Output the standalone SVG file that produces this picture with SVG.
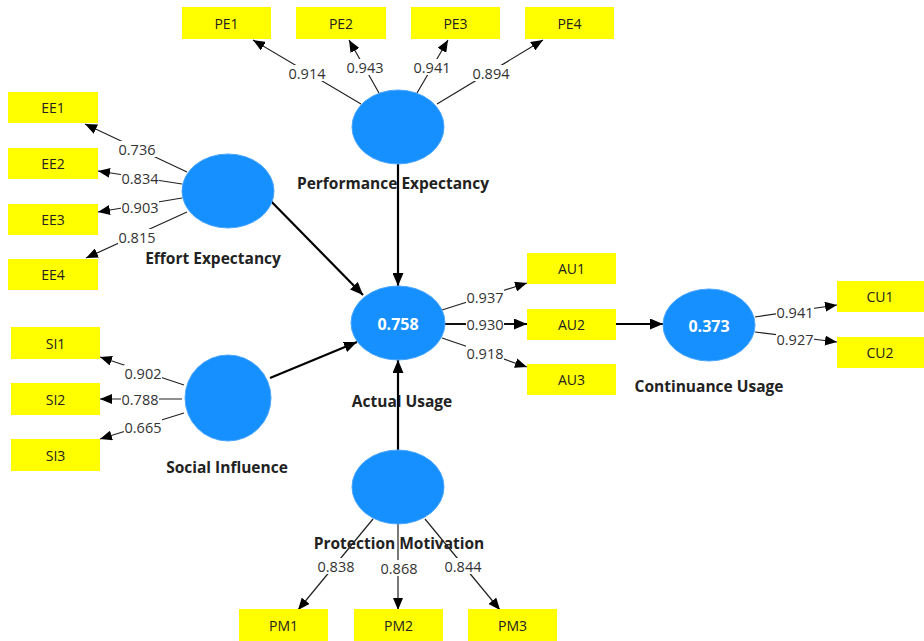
<svg xmlns="http://www.w3.org/2000/svg" width="924" height="641" viewBox="0 0 924 641">
<defs>
<marker id="ah" viewBox="0 0 12 10" refX="12" refY="5" markerWidth="12" markerHeight="10" markerUnits="userSpaceOnUse" orient="auto"><path d="M0,0 L12,5 L0,10 z" fill="#000"/></marker>
<marker id="ahb" viewBox="0 0 13 11" refX="13" refY="5.5" markerWidth="13" markerHeight="11" markerUnits="userSpaceOnUse" orient="auto"><path d="M0,0 L13,5.5 L0,11 z" fill="#000"/></marker>
</defs>
<style>
.box{fill:#ffff00;}
.bt{font-family:"Open Sans","Noto Sans",sans-serif;font-size:14px;fill:#222;text-anchor:middle;dominant-baseline:central;}
.lv{fill:#1690ff;stroke:#4aa6ff;stroke-width:1;}
.lt{font-family:"Open Sans","Noto Sans",sans-serif;font-size:15.5px;font-weight:bold;fill:#222;text-anchor:middle;dominant-baseline:central;}
.vt{font-family:"Open Sans","Noto Sans",sans-serif;font-size:16px;font-weight:bold;fill:#fff;text-anchor:middle;dominant-baseline:central;}
.ind{stroke:#222;stroke-width:1.2;fill:none;marker-end:url(#ah);}
.indb{stroke:#111;stroke-width:2;fill:none;marker-end:url(#ahb);}
.str{stroke:#000;stroke-width:2.2;fill:none;marker-end:url(#ahb);}
.lb{fill:#fff;}
.ltx{font-family:"Open Sans","Noto Sans",sans-serif;font-size:14.5px;fill:#333;text-anchor:middle;dominant-baseline:central;}
</style>
<rect width="924" height="641" fill="#fff"/>

<g id="labels">
<text class="lt" x="393" y="183">Performance Expectancy</text>
<text class="lt" x="213" y="258">Effort Expectancy</text>
<text class="lt" x="227" y="467">Social Influence</text>
<text class="lt" x="402" y="401">Actual Usage</text>
<text class="lt" x="709" y="386">Continuance Usage</text>
<text class="lt" x="399" y="543">Protection Motivation</text>
</g>

<g id="connectors">
<path class="ind" d="M361,104 L253,40"/>
<path class="ind" d="M379,93 L349,40"/>
<path class="ind" d="M417,93 L448,40"/>
<path class="ind" d="M437,104 L543,40"/>
<path class="ind" d="M187,172 L85,124"/>
<path class="ind" d="M182,184 L98,171"/>
<path class="ind" d="M182,198 L98,212"/>
<path class="ind" d="M187,212 L86,258"/>
<path class="ind" d="M184,385 L100,357"/>
<path class="ind" d="M182,399 L100,399"/>
<path class="ind" d="M184,413 L100,439"/>
<path class="ind" d="M442,310 L527,283"/>
<path class="indb" d="M445,324 L527,324"/>
<path class="ind" d="M442,338 L527,367"/>
<path class="ind" d="M755,317 L837,305"/>
<path class="ind" d="M755,332 L837,342"/>
<path class="ind" d="M373,519 L298,610"/>
<path class="ind" d="M398,524 L398,610"/>
<path class="ind" d="M425,519 L500,610"/>
<path class="str" d="M398,164 L398,286"/>
<path class="str" d="M260,190 L363,295"/>
<path class="str" d="M270,378 L357,342"/>
<path class="str" d="M398,450 L398,360"/>
<path class="str" d="M616,324 L663,324"/>

<g>
<rect class="lb" x="288" y="65" width="38" height="16"/><text class="ltx" x="307" y="73">0.914</text>
<rect class="lb" x="346" y="59" width="38" height="16"/><text class="ltx" x="365" y="67">0.943</text>
<rect class="lb" x="413" y="59" width="38" height="16"/><text class="ltx" x="432" y="67">0.941</text>
<rect class="lb" x="472" y="65" width="38" height="16"/><text class="ltx" x="491" y="73">0.894</text>

<rect class="lb" x="118" y="141" width="38" height="16"/><text class="ltx" x="137" y="149">0.736</text>
<rect class="lb" x="121" y="170" width="38" height="16"/><text class="ltx" x="140" y="178">0.834</text>
<rect class="lb" x="121" y="199" width="38" height="16"/><text class="ltx" x="140" y="207">0.903</text>
<rect class="lb" x="118" y="229" width="38" height="16"/><text class="ltx" x="137" y="237">0.815</text>

<rect class="lb" x="124" y="365" width="38" height="16"/><text class="ltx" x="143" y="373">0.902</text>
<rect class="lb" x="121" y="391" width="38" height="16"/><text class="ltx" x="140" y="399">0.788</text>
<rect class="lb" x="124" y="419" width="38" height="16"/><text class="ltx" x="143" y="427">0.665</text>

<rect class="lb" x="466" y="289" width="38" height="16"/><text class="ltx" x="485" y="297">0.937</text>
<rect class="lb" x="466" y="316" width="38" height="16"/><text class="ltx" x="485" y="324">0.930</text>
<rect class="lb" x="466" y="345" width="38" height="16"/><text class="ltx" x="485" y="353">0.918</text>

<rect class="lb" x="776" y="304" width="38" height="16"/><text class="ltx" x="795" y="312">0.941</text>
<rect class="lb" x="776" y="331" width="38" height="16"/><text class="ltx" x="795" y="339">0.927</text>

<rect class="lb" x="317" y="558" width="38" height="16"/><text class="ltx" x="336" y="566">0.838</text>
<rect class="lb" x="380" y="560" width="38" height="16"/><text class="ltx" x="399" y="568">0.868</text>
<rect class="lb" x="444" y="558" width="38" height="16"/><text class="ltx" x="463" y="566">0.844</text>
</g>
</g>

<g id="PE"><ellipse class="lv" cx="398" cy="127" rx="46" ry="37"/></g>
<g id="EE"><ellipse class="lv" cx="228" cy="191" rx="46" ry="37"/></g>
<g id="SI"><ellipse class="lv" cx="228" cy="398" rx="43" ry="43"/></g>
<g id="AU"><ellipse class="lv" cx="398" cy="323" rx="47" ry="37"/><text class="vt" x="398" y="324">0.758</text></g>
<g id="CU"><ellipse class="lv" cx="709" cy="325" rx="46" ry="36"/><text class="vt" x="709" y="326">0.373</text></g>
<g id="PM"><ellipse class="lv" cx="398" cy="487" rx="46" ry="37"/></g>

<g id="PE1"><rect class="box" x="182" y="7" width="89" height="32"/><text class="bt" x="226.5" y="23">PE1</text></g>
<g id="PE2"><rect class="box" x="296" y="7" width="90" height="32"/><text class="bt" x="341" y="23">PE2</text></g>
<g id="PE3"><rect class="box" x="411" y="7" width="89" height="32"/><text class="bt" x="455.5" y="23">PE3</text></g>
<g id="PE4"><rect class="box" x="525" y="7" width="89" height="32"/><text class="bt" x="569.5" y="23">PE4</text></g>

<g id="EE1"><rect class="box" x="8" y="92" width="90" height="31"/><text class="bt" x="53" y="107.5">EE1</text></g>
<g id="EE2"><rect class="box" x="8" y="148" width="90" height="31"/><text class="bt" x="53" y="163.5">EE2</text></g>
<g id="EE3"><rect class="box" x="8" y="204" width="90" height="31"/><text class="bt" x="53" y="219.5">EE3</text></g>
<g id="EE4"><rect class="box" x="8" y="259" width="90" height="31"/><text class="bt" x="53" y="274.5">EE4</text></g>

<g id="SI1"><rect class="box" x="11" y="327" width="89" height="32"/><text class="bt" x="55.5" y="343">SI1</text></g>
<g id="SI2"><rect class="box" x="11" y="383" width="89" height="32"/><text class="bt" x="55.5" y="399">SI2</text></g>
<g id="SI3"><rect class="box" x="11" y="439" width="89" height="32"/><text class="bt" x="55.5" y="455">SI3</text></g>

<g id="AU1"><rect class="box" x="527" y="253" width="89" height="31"/><text class="bt" x="571.5" y="268.5">AU1</text></g>
<g id="AU2"><rect class="box" x="527" y="309" width="89" height="31"/><text class="bt" x="571.5" y="324.5">AU2</text></g>
<g id="AU3"><rect class="box" x="527" y="364" width="89" height="31"/><text class="bt" x="571.5" y="379.5">AU3</text></g>

<g id="CU1"><rect class="box" x="837" y="281" width="87" height="31"/><text class="bt" x="880" y="296.5">CU1</text></g>
<g id="CU2"><rect class="box" x="837" y="337" width="87" height="31"/><text class="bt" x="880" y="352.5">CU2</text></g>

<g id="PM1"><rect class="box" x="239" y="609" width="89" height="32"/><text class="bt" x="283.5" y="625">PM1</text></g>
<g id="PM2"><rect class="box" x="354" y="609" width="89" height="32"/><text class="bt" x="398.5" y="625">PM2</text></g>
<g id="PM3"><rect class="box" x="468" y="609" width="89" height="32"/><text class="bt" x="512.5" y="625">PM3</text></g>
</svg>
